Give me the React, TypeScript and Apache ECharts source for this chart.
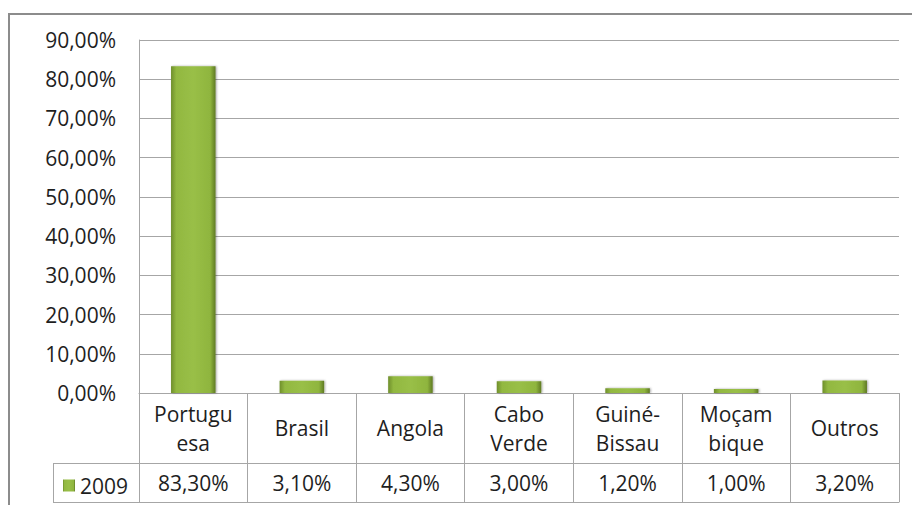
import React, { useEffect, useRef } from "react";
import * as echarts from "echarts";

const categories = ["Portugu\nesa", "Brasil", "Angola", "Cabo\nVerde", "Guiné-\nBissau", "Moçam\nbique", "Outros"];
const seriesName = "2009";
const values = [83.3, 3.1, 4.3, 3.0, 1.2, 1.0, 3.2];
const yMax = 90;
const yInterval = 10;

const fmt = (v: number) => v.toFixed(2).replace(".", ",") + "%";

const FONT = "Open Sans";
const FS = 21;
const GRID = "#a6a6a6";
const TXT = "#1e1e1e";

export default function App() {
  const ref = useRef<HTMLDivElement>(null);
  useEffect(() => {
    if (!ref.current) return;
    const chart = echarts.init(ref.current, null, { renderer: "svg" });
    const barColor = new echarts.graphic.LinearGradient(0, 0, 1, 0, [
      { offset: 0, color: "#6f8f2b" },
      { offset: 0.12, color: "#92b841" },
      { offset: 0.5, color: "#99bf47" },
      { offset: 0.88, color: "#8fb53e" },
      { offset: 1, color: "#5f7a24" },
    ]);
    chart.setOption({
      animation: false,
      backgroundColor: "#ffffff",
      textStyle: { fontFamily: FONT },
      grid: { left: 139, right: 13, top: 40, bottom: 112, containLabel: false },
      legend: {
        data: [seriesName],
        left: 58,
        top: 470,
        icon: "rect",
        itemWidth: 12,
        itemHeight: 12,
        itemGap: 4,
        textStyle: { fontFamily: FONT, fontSize: FS, color: TXT },
      },
      xAxis: [
        {
          type: "category",
          data: categories,
          position: "bottom",
          axisLine: { show: true, lineStyle: { color: GRID, width: 1 } },
          axisTick: { show: true, length: 109, interval: 0, lineStyle: { color: GRID, width: 1 } },
          axisLabel: {
            interval: 0,
            margin: 35,
            verticalAlign: "middle",
            lineHeight: 29,
            fontFamily: FONT,
            fontSize: FS,
            color: TXT,
          },
        },
        {
          type: "category",
          data: categories,
          position: "bottom",
          offset: 70,
          axisLine: { show: true, lineStyle: { color: GRID, width: 1 } },
          axisTick: { show: false },
          axisLabel: {
            interval: 0,
            margin: 20,
            verticalAlign: "middle",
            fontFamily: FONT,
            fontSize: FS,
            color: TXT,
            formatter: (_v: string, i: number) => fmt(values[i]),
          },
        },
        {
          type: "category",
          data: categories,
          position: "bottom",
          offset: 109,
          axisLine: { show: true, lineStyle: { color: GRID, width: 1 } },
          axisTick: { show: false },
          axisLabel: { show: false },
        },
      ],
      yAxis: {
        type: "value",
        min: 0,
        max: yMax,
        interval: yInterval,
        axisLine: { show: true, lineStyle: { color: GRID, width: 1 } },
        axisTick: { show: false },
        splitLine: { show: true, lineStyle: { color: GRID, width: 1 } },
        axisLabel: {
          margin: 23,
          fontFamily: FONT,
          fontSize: FS,
          color: TXT,
          formatter: (v: number) => fmt(v),
        },
      },
      series: [
        {
          name: seriesName,
          type: "bar",
          xAxisIndex: 0,
          data: values,
          barWidth: "41%",
          itemStyle: {
            color: barColor,
            shadowColor: "rgba(0,0,0,0.35)",
            shadowBlur: 2,
            shadowOffsetX: 1,
            shadowOffsetY: 0,
          },
        },
      ],
      graphic: [
        {
          type: "rect",
          shape: { x: 9, y: 14, width: 940, height: 540 },
          style: { fill: "none", stroke: "#8c8c8c", lineWidth: 2 },
          silent: true,
        },
        {
          type: "line",
          shape: { x1: 53, y1: 463.5, x2: 139, y2: 463.5 },
          style: { stroke: GRID, lineWidth: 1 },
        },
        {
          type: "line",
          shape: { x1: 53, y1: 502.5, x2: 139, y2: 502.5 },
          style: { stroke: GRID, lineWidth: 1 },
        },
        {
          type: "line",
          shape: { x1: 53.5, y1: 463, x2: 53.5, y2: 503 },
          style: { stroke: GRID, lineWidth: 1 },
        },
      ],
    });
    return () => chart.dispose();
  }, []);
  return (
    <div
      ref={ref}
      style={{ position: "fixed", left: 0, top: 0, width: 912, height: 505 }}
    />
  );
}
